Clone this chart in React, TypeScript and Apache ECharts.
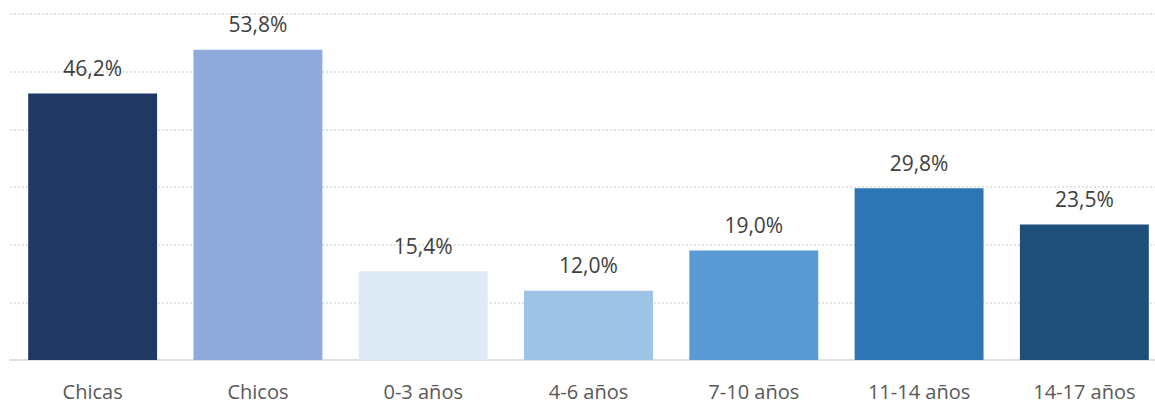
import React, { useEffect, useRef } from "react";
import * as echarts from "echarts";

const categories = ["Chicas", "Chicos", "0-3 años", "4-6 años", "7-10 años", "11-14 años", "14-17 años"];
const values = [46.2, 53.8, 15.4, 12.0, 19.0, 29.8, 23.5];
const colors = ["#203864", "#8faadc", "#deebf7", "#9dc3e6", "#5b9bd5", "#2e75b6", "#1f4e79"];

export default function App() {
  const ref = useRef<HTMLDivElement>(null);
  useEffect(() => {
    const chart = echarts.init(ref.current!, null, { renderer: "svg" });
    chart.setOption({
      animation: false,
      grid: { left: 10, top: 14, width: 1157, height: 346 },
      xAxis: {
        type: "category",
        data: categories,
        axisTick: { show: false },
        axisLine: { lineStyle: { color: "#d9d9d9", width: 1.5 } },
        axisLabel: { color: "#595959", fontSize: 20, fontFamily: "Open Sans", margin: 21 },
      },
      yAxis: {
        type: "value",
        min: 0,
        max: 60,
        interval: 10,
        axisLabel: { show: false },
        axisLine: { show: false },
        splitLine: { lineStyle: { color: "#d9d9d9", type: [2, 2], width: 1.5 } },
      },
      series: [
        {
          type: "bar",
          barWidth: "78%",
          data: values.map((v, i) => ({ value: v, itemStyle: { color: colors[i] } })),
          label: {
            show: true,
            position: "top",
            distance: 15,
            color: "#404040",
            fontSize: 21,
            fontFamily: "Open Sans",
            formatter: (p: any) => p.value.toFixed(1).replace(".", ",") + "%",
          },
        },
      ],
    });
    return () => chart.dispose();
  }, []);
  return (
    <div style={{ position: "absolute", left: 0, top: 0, width: 1155, height: 403, overflow: "hidden" }}>
      <div ref={ref} style={{ width: 1200, height: 403 }} />
    </div>
  );
}
